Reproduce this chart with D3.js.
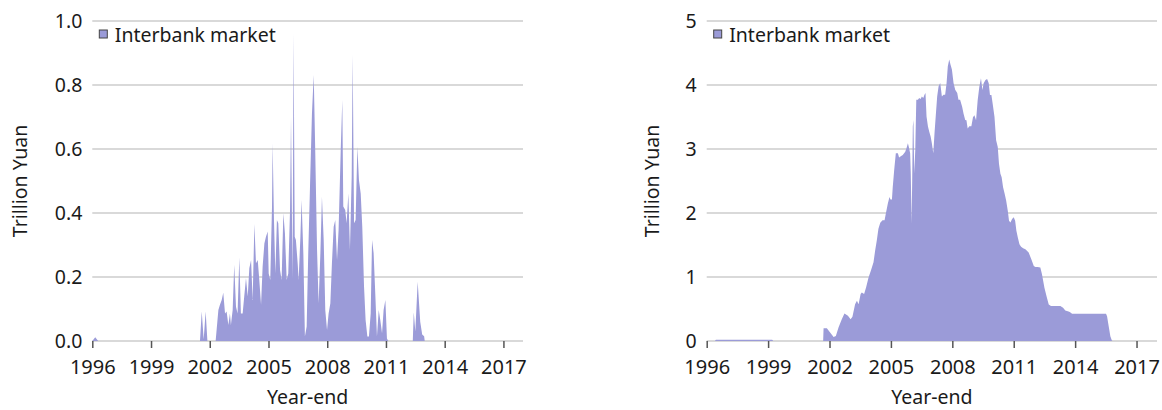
<!DOCTYPE html>
<html><head><meta charset="utf-8">
<script src="https://cdn.jsdelivr.net/npm/d3@7"></script>
<style>
body{margin:0;background:#fff}
svg{display:block}
text{font-family:"Noto Sans",sans-serif;fill:#1a1a1a}
</style>
</head><body><svg id="c" width="1162" height="410"></svg>
<script>
const xTickYears = [1996, 1999, 2002, 2005, 2008, 2011, 2014, 2017];
const leftYTicks = [0, 0.2, 0.4, 0.6, 0.8, 1.0];
const rightYTicks = [0, 1, 2, 3, 4, 5];
const seriesName = "Interbank market";
const yAxisTitle = "Trillion Yuan";
const xAxisTitle = "Year-end";

// Left panel (spiky series)
const flowYears = [1996.00,1996.15,1996.30,2001.50,2001.59,2001.69,2001.79,2001.88,2002.30,2002.44,2002.52,2002.61,2002.69,2002.78,2002.86,2002.95,2003.03,2003.08,2003.17,2003.25,2003.34,2003.42,2003.51,2003.59,2003.68,2003.76,2003.85,2003.94,2004.02,2004.11,2004.19,2004.28,2004.36,2004.45,2004.53,2004.62,2004.70,2004.79,2004.87,2004.96,2005.01,2005.09,2005.18,2005.21,2005.28,2005.35,2005.43,2005.50,2005.59,2005.67,2005.76,2005.84,2005.93,2006.01,2006.10,2006.15,2006.23,2006.28,2006.34,2006.40,2006.49,2006.54,2006.63,2006.69,2006.78,2006.86,2006.95,2007.03,2007.12,2007.22,2007.31,2007.39,2007.48,2007.56,2007.65,2007.73,2007.82,2007.90,2007.99,2008.07,2008.16,2008.24,2008.33,2008.41,2008.50,2008.58,2008.69,2008.77,2008.82,2008.92,2008.99,2009.08,2009.16,2009.25,2009.30,2009.37,2009.45,2009.54,2009.62,2009.71,2009.79,2009.88,2009.96,2010.05,2010.13,2010.22,2010.29,2010.37,2010.46,2010.54,2010.63,2010.71,2010.80,2010.88,2010.97,2011.05,2011.12,2012.37,2012.42,2012.50,2012.62,2012.75,2012.85,2012.95,2012.98];
const flowValues = [0,0.012,0,0,0.092,0.005,0.092,0,0,0.097,0.113,0.128,0.151,0.086,0.092,0.05,0.086,0.05,0.097,0.238,0.107,0.086,0.261,0.086,0.086,0.139,0.196,0.139,0.227,0.253,0.128,0.366,0.243,0.253,0.191,0.113,0.232,0.305,0.326,0.342,0.211,0.191,0.42,0.618,0.378,0.211,0.378,0.368,0.222,0.191,0.399,0.336,0.191,0.211,0.409,0.701,0.191,0.961,0.326,0.316,0.243,0.191,0.326,0.441,0.274,0.014,0.045,0.274,0.482,0.711,0.831,0.586,0.284,0.118,0.274,0.451,0.316,0.097,0.034,0.086,0.118,0.243,0.357,0.378,0.253,0.347,0.597,0.753,0.42,0.409,0.368,0.461,0.284,0.514,0.894,0.368,0.378,0.607,0.503,0.461,0.357,0.17,0.066,0.014,0.014,0.086,0.316,0.274,0.139,0.014,0.097,0.066,0.024,0.097,0.128,0.008,0,0,0.09,0.03,0.185,0.06,0.02,0.015,0];

// Right panel (smooth series)
const stockYears = [1996.00,1996.40,1996.45,1999.20,1999.25,2001.69,2001.71,2001.87,2002.03,2002.20,2002.31,2002.44,2002.60,2002.73,2002.90,2003.03,2003.12,2003.25,2003.34,2003.42,2003.52,2003.58,2003.69,2003.79,2003.91,2004.02,2004.15,2004.23,2004.31,2004.39,2004.48,2004.59,2004.69,2004.75,2004.85,2004.93,2004.98,2005.05,2005.09,2005.16,2005.24,2005.34,2005.40,2005.50,2005.58,2005.70,2005.76,2005.83,2005.89,2005.94,2005.97,2006.01,2006.04,2006.07,2006.10,2006.14,2006.19,2006.24,2006.32,2006.38,2006.45,2006.51,2006.58,2006.64,2006.69,2006.74,2006.81,2006.87,2006.94,2007.00,2007.07,2007.13,2007.20,2007.26,2007.33,2007.41,2007.49,2007.57,2007.65,2007.72,2007.78,2007.85,2007.91,2007.98,2008.06,2008.14,2008.24,2008.30,2008.38,2008.48,2008.55,2008.63,2008.69,2008.75,2008.83,2008.93,2009.01,2009.08,2009.16,2009.24,2009.32,2009.40,2009.47,2009.53,2009.62,2009.70,2009.78,2009.84,2009.91,2009.97,2010.06,2010.14,2010.22,2010.28,2010.35,2010.41,2010.48,2010.56,2010.63,2010.71,2010.77,2010.84,2010.92,2011.00,2011.07,2011.13,2011.20,2011.28,2011.36,2011.46,2011.57,2011.73,2011.86,2011.98,2012.06,2012.17,2012.30,2012.38,2012.50,2012.60,2012.71,2012.82,2013.15,2013.28,2013.41,2013.52,2013.64,2013.74,2013.85,2015.51,2015.56,2015.64,2015.72,2015.80,2015.85];
const stockValues = [0,0,0.02,0.02,0,0,0.199,0.199,0.131,0.063,0.079,0.209,0.34,0.429,0.393,0.34,0.377,0.576,0.628,0.576,0.733,0.759,0.733,0.838,0.995,1.099,1.23,1.414,1.571,1.754,1.848,1.885,1.885,1.99,2.147,2.251,2.209,2.209,2.408,2.67,2.932,2.932,2.869,2.89,2.906,2.958,3.01,3.089,3.01,2.932,2.618,1.832,2.513,3.351,3.455,2.618,2.984,3.77,3.77,3.796,3.78,3.822,3.796,3.848,3.874,3.508,3.351,3.272,3.194,3.089,2.932,3.246,3.56,3.822,3.979,4.031,3.822,3.848,3.848,4.031,4.293,4.398,4.319,4.241,4.031,3.927,3.874,3.77,3.77,3.66,3.55,3.455,3.45,3.319,3.356,3.356,3.497,3.529,3.45,3.764,3.974,4.105,3.921,4.026,4.079,4.094,4.026,3.843,3.843,3.712,3.503,3.136,3.031,2.77,2.613,2.56,2.403,2.298,2.194,2.037,1.88,1.853,1.906,1.932,1.88,1.723,1.618,1.513,1.471,1.45,1.435,1.382,1.277,1.173,1.157,1.157,1.147,1.042,0.832,0.702,0.571,0.545,0.545,0.545,0.518,0.476,0.466,0.455,0.424,0.424,0.387,0.23,0.073,0.005,0];

const FILL = "#9b9bd8";
const FONT = 19.5;
const svg = d3.select("#c");

function drawPanel(cfg) {
  const g = svg.append("g");
  const x = d3.scaleLinear().domain([1996, 2018]).range([cfg.x0, cfg.x1]);
  const y = d3.scaleLinear().domain([0, cfg.yMax]).range([341, 21]);
  const data = cfg.years.map((t, i) => ({t, v: cfg.values[i]}));

  // gridlines
  g.append("g").selectAll("line").data(cfg.yTicks).join("line")
    .attr("x1", cfg.x0).attr("x2", cfg.x1)
    .attr("y1", d => y(d)).attr("y2", d => y(d))
    .attr("stroke", "#cccccc").attr("stroke-width", 1.4);

  // area
  const area = d3.area().x(d => x(d.t)).y0(y(0)).y1(d => y(d.v));
  g.append("path").datum(data).attr("d", area).attr("fill", FILL);

  // x axis
  const xa = g.append("g").attr("transform", `translate(0,${y(0)})`)
    .call(d3.axisBottom(x).tickValues(xTickYears).tickFormat(d3.format("d"))
      .tickSizeInner(7).tickSizeOuter(0).tickPadding(12));
  xa.select(".domain").remove();
  xa.selectAll("line").attr("stroke", "#555").attr("stroke-width", 1.5);
  xa.selectAll("text").attr("font-size", 20).attr("fill", "#1a1a1a")
    .style("font-family", '"Noto Sans",sans-serif');

  // y axis labels
  const ya = g.append("g").attr("transform", `translate(${cfg.x0},0)`)
    .call(d3.axisLeft(y).tickValues(cfg.yTicks).tickFormat(cfg.fmt)
      .tickSize(0).tickPadding(10));
  ya.select(".domain").remove();
  ya.selectAll("text").attr("font-size", FONT).attr("fill", "#1a1a1a")
    .style("font-family", '"Noto Sans",sans-serif');

  // axis titles
  g.append("text").attr("transform", `translate(${cfg.titleX},181) rotate(-90)`)
    .attr("text-anchor", "middle").attr("font-size", FONT).text(yAxisTitle);
  g.append("text").attr("x", (cfg.x0 + cfg.x1) / 2).attr("y", 404)
    .attr("text-anchor", "middle").attr("font-size", FONT).text(xAxisTitle);

  // legend
  g.append("rect").attr("x", cfg.x0 + 7).attr("y", 30).attr("width", 8).attr("height", 8)
    .attr("fill", FILL).attr("stroke", "#444").attr("stroke-width", 1);
  g.append("text").attr("x", cfg.x0 + 22.5).attr("y", 42)
    .attr("font-size", FONT).text(seriesName);
}

drawPanel({x0: 92.3, x1: 523, yMax: 1, yTicks: leftYTicks, fmt: d3.format(".1f"),
  titleX: 27, years: flowYears, values: flowValues});
drawPanel({x0: 706.7, x1: 1157, yMax: 5, yTicks: rightYTicks, fmt: d3.format("d"),
  titleX: 659, years: stockYears, values: stockValues});
</script>
</body></html>
